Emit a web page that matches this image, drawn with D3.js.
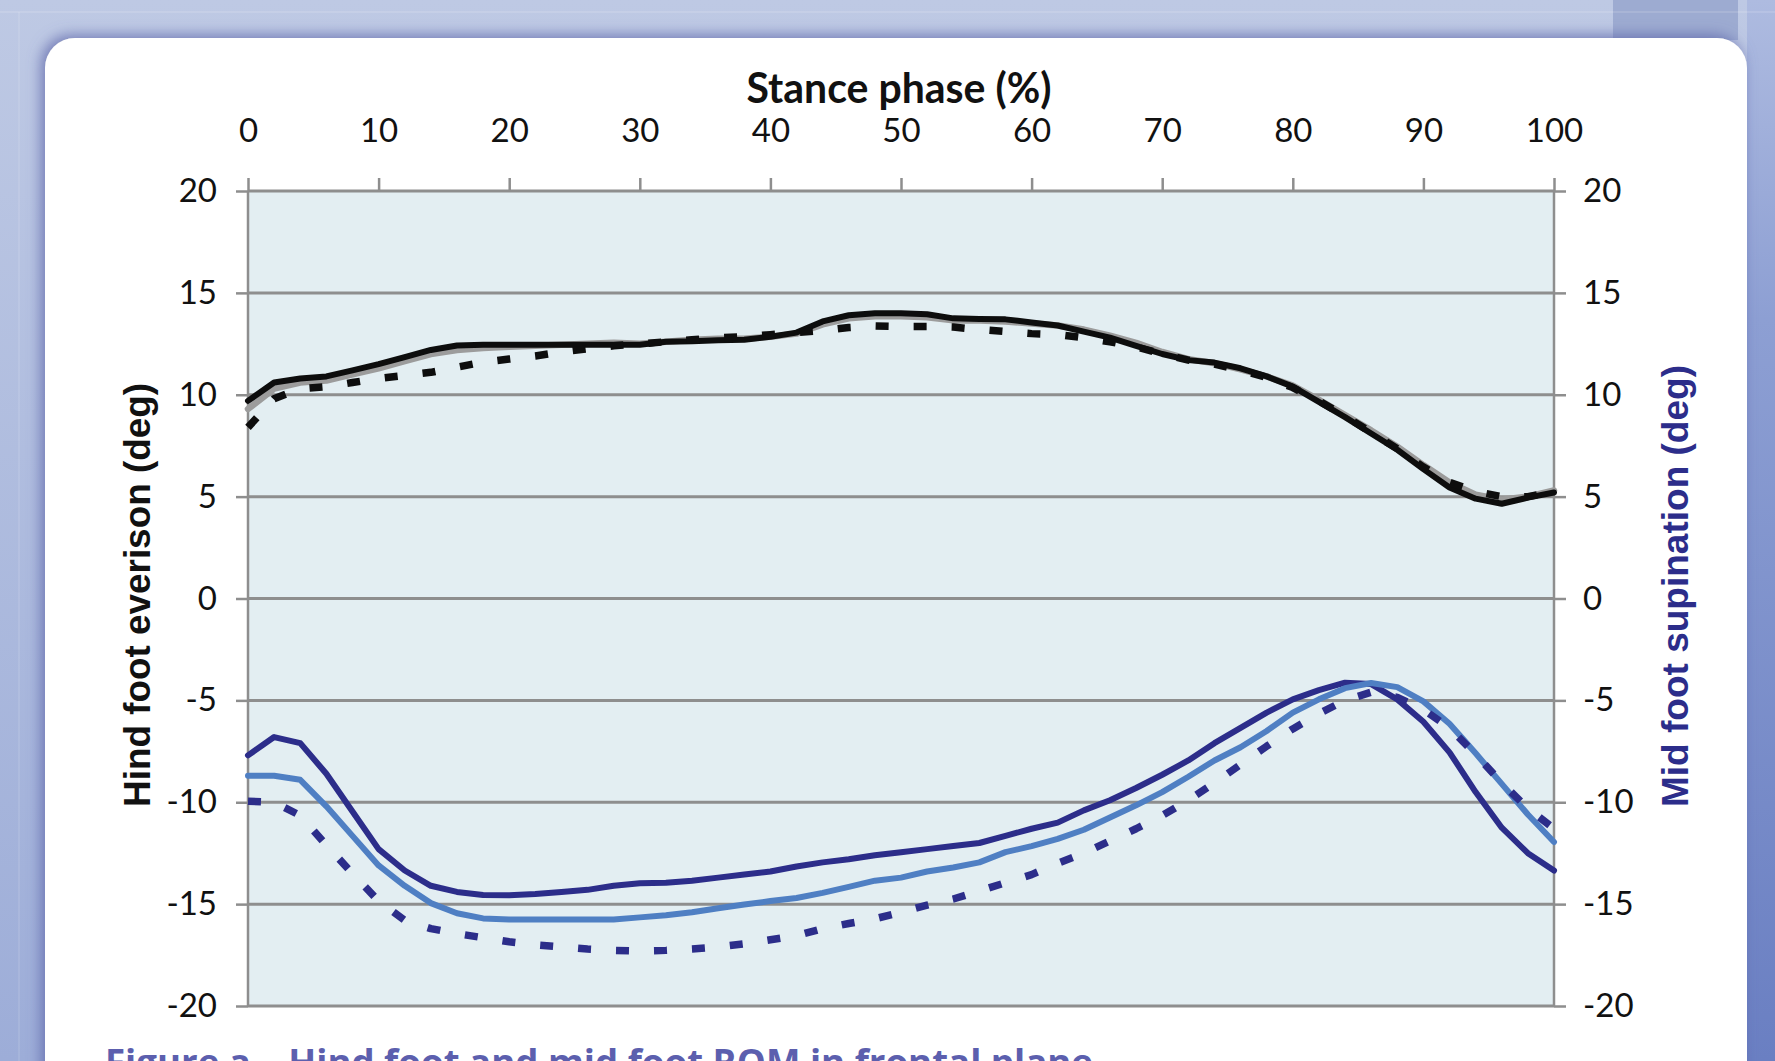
<!DOCTYPE html>
<html><head><meta charset="utf-8">
<script src="https://cdn.jsdelivr.net/npm/d3@7"></script>
<style>html,body{margin:0;padding:0;background:#b9c5e2;overflow:hidden}</style>
</head><body>
<script>
// ---- data ----
const stance = [0,2,4,6,8,10,12,14,16,18,20,22,24,26,28,30,32,34,36,38,40,42,44,46,48,50,52,54,56,58,60,62,64,66,68,70,72,74,76,78,80,82,84,86,88,90,92,94,96,98,100];
const xTickValues = [0,10,20,30,40,50,60,70,80,90,100];
const yTickValues = [-20,-15,-10,-5,0,5,10,15,20];
const hindSolidBlack = [9.7,10.6,10.8,10.9,11.2,11.5,11.85,12.2,12.42,12.45,12.45,12.45,12.45,12.45,12.45,12.45,12.6,12.62,12.68,12.7,12.85,13.05,13.6,13.9,14.0,14.0,13.95,13.75,13.72,13.7,13.55,13.4,13.1,12.8,12.4,12.0,11.7,11.58,11.3,10.9,10.4,9.65,8.9,8.1,7.3,6.35,5.45,4.9,4.65,4.95,5.2];
const hindSolidGray = [9.3,10.3,10.6,10.7,11.0,11.3,11.65,12.0,12.2,12.3,12.35,12.4,12.45,12.5,12.55,12.5,12.6,12.7,12.75,12.75,12.85,13.0,13.45,13.75,13.85,13.85,13.8,13.65,13.65,13.6,13.5,13.4,13.2,12.9,12.55,12.1,11.75,11.55,11.25,10.9,10.45,9.75,9.0,8.25,7.45,6.55,5.7,5.1,4.85,5.0,5.3];
const hindDashed = [8.4,9.8,10.3,10.4,10.6,10.8,10.95,11.1,11.35,11.6,11.75,11.9,12.1,12.25,12.4,12.5,12.6,12.7,12.8,12.85,12.95,13.05,13.15,13.3,13.38,13.35,13.35,13.32,13.2,13.1,13.0,12.95,12.8,12.6,12.35,12.0,11.7,11.5,11.2,10.85,10.35,9.7,8.95,8.15,7.35,6.45,5.7,5.25,5.0,5.0,5.25];
const midSolidNavy = [-7.7,-6.8,-7.1,-8.6,-10.45,-12.3,-13.35,-14.1,-14.4,-14.55,-14.57,-14.5,-14.4,-14.3,-14.1,-13.98,-13.95,-13.85,-13.7,-13.55,-13.4,-13.15,-12.95,-12.8,-12.6,-12.45,-12.3,-12.15,-12.0,-11.65,-11.3,-11.0,-10.4,-9.9,-9.3,-8.65,-7.95,-7.1,-6.35,-5.6,-4.95,-4.5,-4.13,-4.2,-4.95,-6.05,-7.55,-9.5,-11.25,-12.5,-13.35];
const midSolidBlue = [-8.7,-8.7,-8.9,-10.2,-11.65,-13.1,-14.1,-14.95,-15.45,-15.7,-15.75,-15.75,-15.75,-15.75,-15.75,-15.65,-15.55,-15.4,-15.2,-15.02,-14.85,-14.7,-14.45,-14.15,-13.85,-13.7,-13.4,-13.2,-12.95,-12.45,-12.15,-11.8,-11.35,-10.75,-10.15,-9.5,-8.75,-7.95,-7.3,-6.5,-5.6,-4.95,-4.4,-4.15,-4.35,-5.05,-6.15,-7.6,-9.1,-10.6,-11.95];
const midDashed = [-9.95,-10.0,-10.65,-12.1,-13.5,-14.85,-15.8,-16.2,-16.45,-16.65,-16.85,-17.0,-17.1,-17.2,-17.27,-17.3,-17.27,-17.2,-17.1,-16.95,-16.75,-16.55,-16.2,-15.95,-15.72,-15.4,-15.05,-14.75,-14.35,-13.95,-13.55,-13.0,-12.5,-11.9,-11.3,-10.65,-9.9,-9.05,-8.15,-7.25,-6.4,-5.65,-5.0,-4.6,-4.85,-5.45,-6.35,-7.65,-9.05,-10.3,-11.3];

const W = 1775, H = 1061;
const svg = d3.select("body").append("svg").attr("width", W).attr("height", H);
const defs = svg.append("defs");

const gBg = defs.append("linearGradient").attr("id","bg").attr("x1",0).attr("y1",0).attr("x2",0).attr("y2",1);
gBg.append("stop").attr("offset","0").attr("stop-color","#bec9e4");
gBg.append("stop").attr("offset","1").attr("stop-color","#9dadd8");
const gR = defs.append("linearGradient").attr("id","rside").attr("x1",0).attr("y1",0).attr("x2",0).attr("y2",1);
gR.append("stop").attr("offset","0").attr("stop-color","#aebbe0");
gR.append("stop").attr("offset","0.3").attr("stop-color","#8d9fd3");
gR.append("stop").attr("offset","1").attr("stop-color","#6a7fc2");
const f = defs.append("filter").attr("id","sh").attr("x","-5%").attr("y","-5%").attr("width","110%").attr("height","110%");
f.append("feDropShadow").attr("dx",-4).attr("dy",-3).attr("stdDeviation",7).attr("flood-color","#5c63a8").attr("flood-opacity",0.75);

// background
svg.append("rect").attr("width",W).attr("height",H).attr("fill","url(#bg)");
svg.append("rect").attr("x",1747).attr("y",0).attr("width",28).attr("height",H).attr("fill","url(#rside)");
svg.append("rect").attr("x",1613).attr("y",0).attr("width",125).attr("height",40).attr("fill","#9dabd1");
svg.append("line").attr("x1",0).attr("x2",W).attr("y1",12).attr("y2",12).attr("stroke","#ffffff").attr("stroke-opacity",0.25).attr("stroke-width",1);
svg.append("line").attr("x1",19).attr("x2",19).attr("y1",12).attr("y2",H).attr("stroke","#ffffff").attr("stroke-opacity",0.2).attr("stroke-width",1);
// card
svg.append("rect").attr("x",45).attr("y",38).attr("width",1702).attr("height",1120).attr("rx",30).attr("ry",30)
  .attr("fill","#ffffff").attr("filter","url(#sh)");

// scales
const x = d3.scaleLinear().domain([0,100]).range([248,1554]);
const y = d3.scaleLinear().domain([-20,20]).range([1006,191]);
const y2 = d3.scaleLinear().domain([-20,20]).range([1006,191]);

const gridColor = "#8e8e8e";
svg.append("rect").attr("x",x(0)).attr("y",y(20)).attr("width",x(100)-x(0)).attr("height",y(-20)-y(20)).attr("fill","#e3eef2");

// gridlines
svg.append("g").selectAll("line").data(yTickValues).join("line")
  .attr("x1",x(0)).attr("x2",x(100)).attr("y1",d=>y(d)).attr("y2",d=>y(d))
  .attr("stroke",gridColor).attr("stroke-width",3);
// vertical axis lines
svg.append("line").attr("x1",x(0)).attr("x2",x(0)).attr("y1",y(20)).attr("y2",y(-20)).attr("stroke",gridColor).attr("stroke-width",2.5);
svg.append("line").attr("x1",x(100)).attr("x2",x(100)).attr("y1",y(20)).attr("y2",y(-20)).attr("stroke",gridColor).attr("stroke-width",2.5);

const tickFont = "Lato, 'Open Sans', sans-serif";
function styleAxis(g){
  g.select(".domain").remove();
  g.selectAll(".tick line").attr("stroke",gridColor).attr("stroke-width",2.5);
  g.selectAll(".tick text").attr("fill","#111").style("font-family",tickFont).style("font-size","33px");
}
svg.append("g").attr("transform",`translate(0,${y(20)})`)
  .call(d3.axisTop(x).tickValues(xTickValues).tickSize(13).tickPadding(36).tickFormat(d3.format("d")))
  .call(styleAxis);
svg.append("g").attr("transform",`translate(${x(0)},0)`)
  .call(d3.axisLeft(y).tickValues(yTickValues).tickSize(12).tickPadding(19).tickFormat(d=>String(d)))
  .call(styleAxis);
svg.append("g").attr("transform",`translate(${x(100)},0)`)
  .call(d3.axisRight(y2).tickValues(yTickValues).tickSize(12).tickPadding(17).tickFormat(d=>String(d)))
  .call(styleAxis);

// lines
function drawLine(vals, scale, color, width, dash){
  const line = d3.line().x((d,i)=>x(stance[i])).y(d=>scale(d)).curve(d3.curveLinear);
  const p = svg.append("path").datum(vals).attr("d",line).attr("fill","none")
    .attr("stroke",color).attr("stroke-width",width).attr("stroke-linejoin","round");
  if(dash) p.attr("stroke-dasharray",dash).attr("stroke-linecap","butt");
  else p.attr("stroke-linecap","round");
}
drawLine(hindSolidGray, y, "#9c9c9c", 6.5);
drawLine(hindSolidBlack, y, "#0d0d0d", 6);
drawLine(hindDashed, y, "#0d0d0d", 7.5, "13,25");
drawLine(midSolidNavy, y2, "#2c2d8a", 6);
drawLine(midSolidBlue, y2, "#4f7fc3", 6);
drawLine(midDashed, y2, "#2c2d8a", 7.5, "13,25");

// titles
svg.append("text").attr("x",899).attr("y",103).attr("text-anchor","middle")
  .attr("textLength",305).attr("lengthAdjust","spacingAndGlyphs")
  .style("font-family",tickFont).style("font-weight","bold").style("font-size","42px").attr("fill","#111")
  .text("Stance phase (%)");
svg.append("text").attr("transform","translate(150,595) rotate(-90)").attr("text-anchor","middle")
  .attr("textLength",424).attr("lengthAdjust","spacingAndGlyphs")
  .style("font-family","'Liberation Sans', Arial, sans-serif").style("font-weight","bold").style("font-size","36px").attr("fill","#111")
  .text("Hind foot everison (deg)");
svg.append("text").attr("transform","translate(1688,586) rotate(-90)").attr("text-anchor","middle")
  .attr("textLength",442).attr("lengthAdjust","spacingAndGlyphs")
  .style("font-family","'Liberation Sans', Arial, sans-serif").style("font-weight","bold").style("font-size","36px").attr("fill","#2c2d8a")
  .text("Mid foot supination (deg)");
// caption (cut off at bottom, as in the reference)
svg.append("text").attr("x",105).attr("y",1075)
  .attr("textLength",988).attr("lengthAdjust","spacingAndGlyphs")
  .style("font-family","'Open Sans', Lato, sans-serif").style("font-weight","bold").style("font-size","36px").attr("fill","#5c5fae")
  .text("Figure a – Hind foot and mid foot ROM in frontal plane");
</script>
</body></html>
